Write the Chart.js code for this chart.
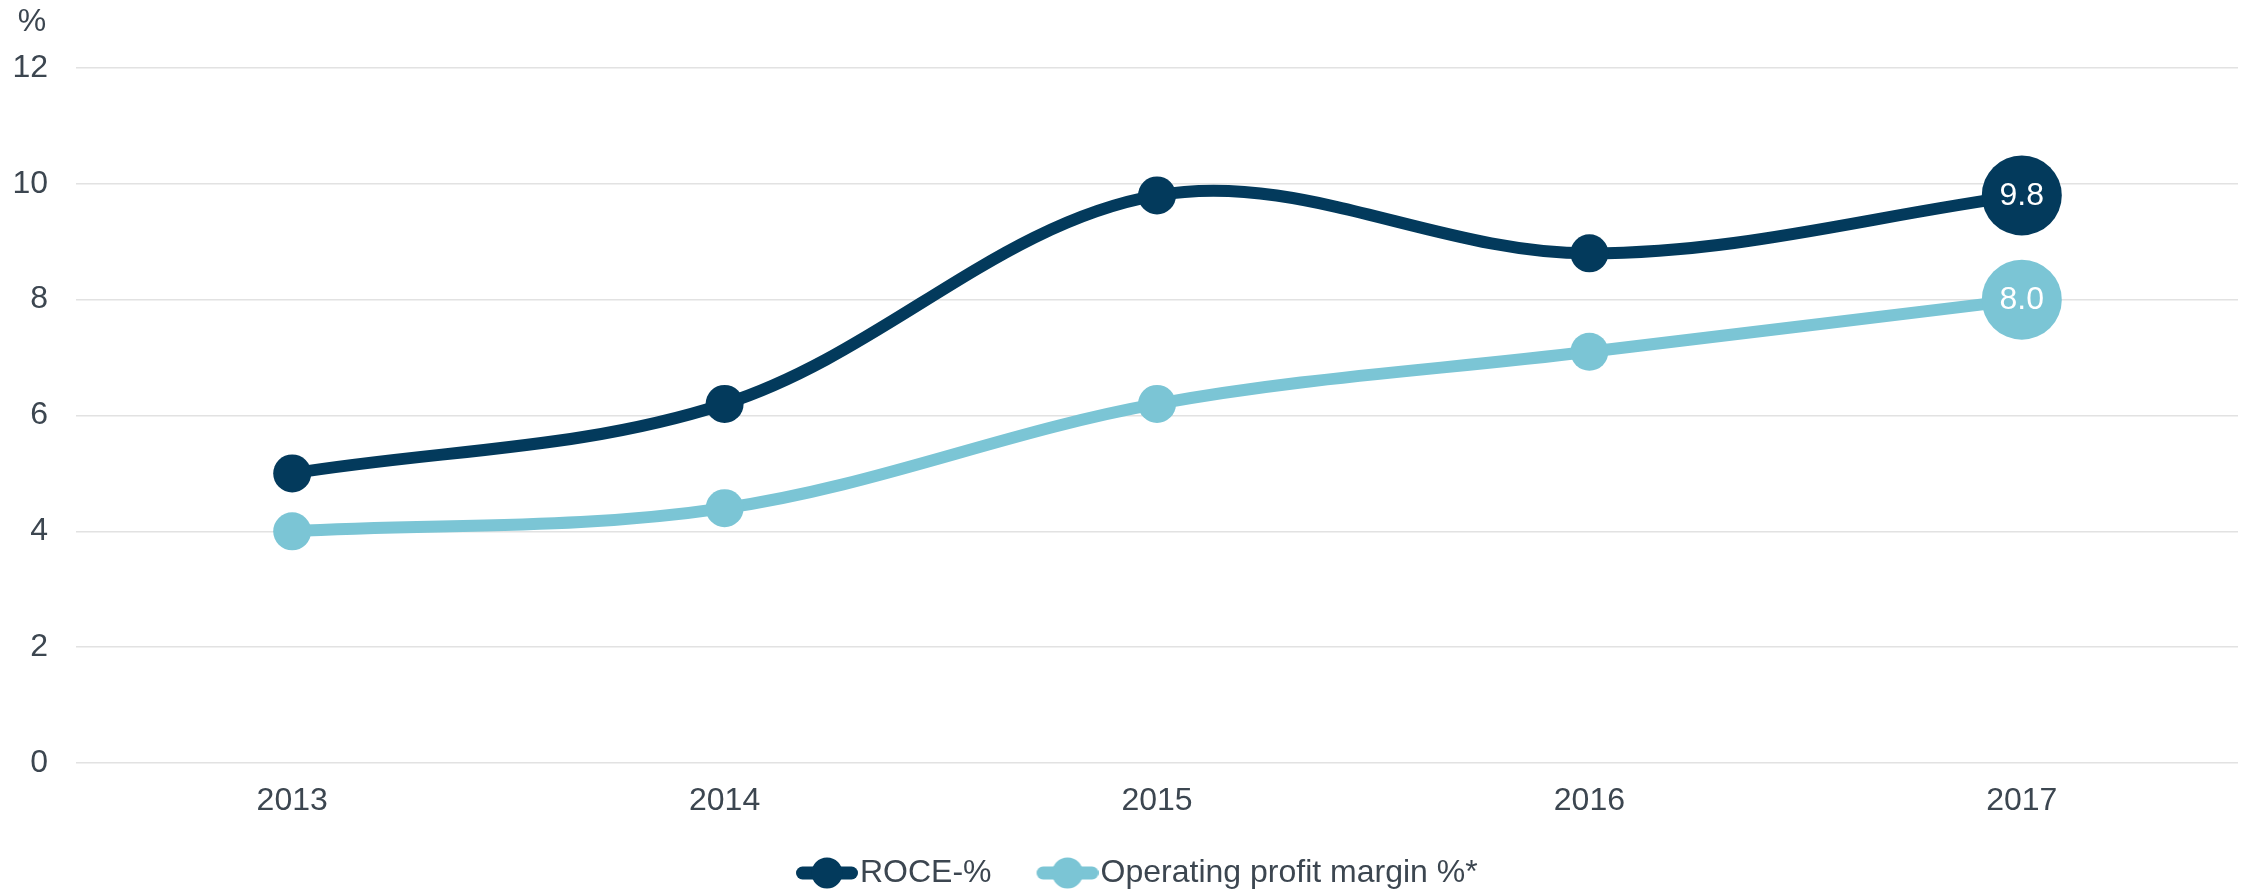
<!DOCTYPE html>
<html>
<head>
<meta charset="utf-8">
<script src="https://cdn.jsdelivr.net/npm/chart.js@4.4.1/dist/chart.umd.min.js"></script>
<style>
html,body{margin:0;padding:0;background:#fff;overflow:hidden;}
#wrap{width:2252px;height:891px;}
</style>
</head>
<body>
<div id="wrap"><canvas id="c" width="2252" height="891"></canvas></div>
<script>
const categories = ['2013', '2014', '2015', '2016', '2017'];
const roce = [5.0, 6.2, 9.8, 8.8, 9.8];
const operatingMargin = [4.0, 4.4, 6.2, 7.1, 8.0];
const yTicks = [0, 2, 4, 6, 8, 10, 12];
const seriesNames = ['ROCE-%', 'Operating profit margin %*'];
const unitLabel = '%';

const NAVY = '#033a5c';
const LIGHT = '#7bc5d5';
const TEXT = '#3c4650';
const FONT = "'Liberation Sans', Arial, sans-serif";

function legendIcon(color) {
  const W = 111, H = 34;
  const cv = document.createElement('canvas');
  cv.width = W; cv.height = H;
  const g = cv.getContext('2d');
  const x0 = W - 62;
  g.strokeStyle = color;
  g.lineWidth = 13;
  g.lineCap = 'round';
  g.beginPath();
  g.moveTo(x0 + 6.5, H / 2);
  g.lineTo(W - 6.5, H / 2);
  g.stroke();
  g.fillStyle = color;
  g.beginPath();
  g.arc(x0 + 31, H / 2, 15.5, 0, Math.PI * 2);
  g.fill();
  return cv;
}
const icons = [legendIcon(NAVY), legendIcon(LIGHT)];

const pointRadii = categories.map((_, i) => i === categories.length - 1 ? 40 : 19);

const endLabels = {
  id: 'endLabels',
  afterDatasetsDraw(chart) {
    const ctx = chart.ctx;
    ctx.save();
    ctx.fillStyle = '#ffffff';
    ctx.font = "32px " + FONT;
    ctx.textAlign = 'center';
    ctx.textBaseline = 'middle';
    chart.data.datasets.forEach((ds, di) => {
      const meta = chart.getDatasetMeta(di);
      const last = ds.data.length - 1;
      const el = meta.data[last];
      ctx.fillText(ds.data[last].toFixed(1), el.x, el.y + 1);
    });
    ctx.restore();
  }
};

const unitText = {
  id: 'unitText',
  afterDraw(chart) {
    const ctx = chart.ctx;
    ctx.save();
    ctx.fillStyle = TEXT;
    ctx.font = "32px " + FONT;
    ctx.textAlign = 'center';
    ctx.textBaseline = 'middle';
    ctx.fillText(unitLabel, 32, 22);
    ctx.restore();
  }
};

const legendPlace = {
  id: 'legendPlace',
  afterLayout(chart) {
    const lg = chart.legend;
    if (!lg) return;
    const h = lg.height;
    lg.left = 751;
    lg.right = 2252;
    lg.top = 873 - h / 2;
    lg.bottom = lg.top + h;
  }
};

new Chart(document.getElementById('c'), {
  type: 'line',
  data: {
    labels: categories,
    datasets: [
      {
        label: seriesNames[0],
        data: roce,
        borderColor: NAVY,
        backgroundColor: NAVY,
        borderWidth: 12,
        pointRadius: pointRadii,
        pointHoverRadius: pointRadii,
        pointBorderWidth: 0,
        pointBackgroundColor: NAVY,
        tension: 0.35,
        fill: false
      },
      {
        label: seriesNames[1],
        data: operatingMargin,
        borderColor: LIGHT,
        backgroundColor: LIGHT,
        borderWidth: 12,
        pointRadius: pointRadii,
        pointHoverRadius: pointRadii,
        pointBorderWidth: 0,
        pointBackgroundColor: LIGHT,
        tension: 0.35,
        fill: false
      }
    ]
  },
  options: {
    responsive: false,
    animation: false,
    devicePixelRatio: 1,
    layout: { autoPadding: false, padding: { left: 0, right: 14, top: 68, bottom: 0 } },
    scales: {
      x: {
        offset: true,
        grid: { display: false, drawTicks: false },
        border: { display: false },
        ticks: { color: TEXT, font: { family: FONT, size: 32 }, padding: 19, maxRotation: 0 },
        afterFit(s) {
          const lh = (s.chart.legend && s.chart.legend.height) || 58;
          s.height = Math.max(40, 891 - 763 - lh);
        }
      },
      y: {
        min: 0,
        max: 12,
        afterBuildTicks(s) { s.ticks = yTicks.map(v => ({ value: v })); },
        grid: { color: '#e2e2e2', lineWidth: 1.5, drawTicks: false },
        border: { display: false },
        ticks: { color: TEXT, font: { family: FONT, size: 32 }, padding: 28 },
        afterFit(s) { s.width = 76; }
      }
    },
    plugins: {
      tooltip: { enabled: false },
      legend: {
        position: 'bottom',
        align: 'start',
        labels: {
          usePointStyle: true,
          pointStyleWidth: 83,
          padding: 10,
          color: TEXT,
          font: { family: FONT, size: 32 },
          generateLabels(chart) {
            return chart.data.datasets.map((ds, i) => ({
              text: ds.label,
              pointStyle: icons[i],
              fillStyle: ds.borderColor,
              strokeStyle: ds.borderColor,
              lineWidth: 0,
              fontColor: TEXT,
              hidden: false,
              datasetIndex: i
            }));
          }
        }
      }
    }
  },
  plugins: [endLabels, unitText, legendPlace]
});
</script>
</body>
</html>
